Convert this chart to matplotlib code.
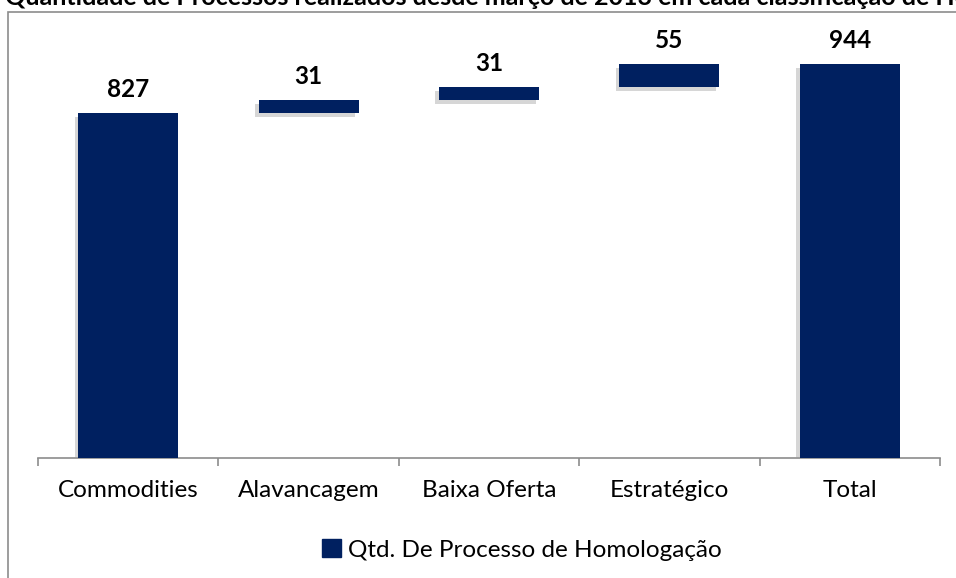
import matplotlib.pyplot as plt
import matplotlib.patheffects as pe
from matplotlib.patches import Rectangle, Patch
import numpy as np

# dados do grafico (cascata)
categorias = ['Commodities', 'Alavancagem', 'Baixa Oferta', 'Estratégico', 'Total']
valores = [827, 31, 31, 55, 944]
titulo = 'Quantidade de Processos realizados desde março de 2013 em cada classificação de Homologação'
legenda = 'Qtd. De Processo de Homologação'

cor = '#002060'
plt.rcParams['font.family'] = ['Lato', 'DejaVu Sans']

fig = plt.figure(figsize=(9.56, 5.78), dpi=100)

# moldura cinza do grafico
fig.patches.append(Rectangle((8 / 956, -0.05), 1.0, (578 - 12) / 578 + 0.05,
                             transform=fig.transFigure, fill=False,
                             edgecolor='#8c8c8c', linewidth=1.2))

fig.text(5 / 956, 573 / 578, titulo, fontsize=18, fontweight='bold',
         ha='left', va='baseline')

ax = fig.add_axes([38 / 956, 120 / 578, 902 / 956, 417 / 578])

# base de cada barra: acumulado dos anteriores, total parte do zero
bases = np.concatenate([[0], np.cumsum(valores[:-2])])
bases = np.append(bases, 0)
x = np.arange(len(categorias))

sombra = [pe.SimplePatchShadow(offset=(-2.5, -2.5), shadow_rgbFace='#9a9a9a', alpha=0.4),
          pe.Normal()]
barras = ax.bar(x, valores, bottom=bases, width=0.555, color=cor, zorder=3)
for b in barras:
    b.set_path_effects(sombra)

for xi, v, b0 in zip(x, valores, bases):
    ax.annotate(str(v), (xi, b0 + v), xytext=(0, 9), textcoords='offset points',
                ha='center', va='bottom', fontsize=17.5, fontweight='bold')

ax.set_xlim(-0.5, len(categorias) - 0.5)
ax.set_ylim(0, 1000)
ax.set_xticks(x)
ax.set_xticklabels(categorias, fontsize=17.5)
ax.set_xticks(np.arange(len(categorias) + 1) - 0.5, minor=True)
ax.tick_params(axis='x', which='major', length=0, pad=16)
ax.tick_params(axis='x', which='minor', length=6, color='#8c8c8c', width=1.2)
ax.set_yticks([])
for s in ['top', 'right', 'left']:
    ax.spines[s].set_visible(False)
ax.spines['bottom'].set_color('#8c8c8c')
ax.spines['bottom'].set_linewidth(1.2)

fig.legend(handles=[Patch(color=cor, label=legenda)], loc='center',
           bbox_to_anchor=(522 / 956, 28 / 578), frameon=False, fontsize=17.5,
           handlelength=0.75, handleheight=0.75, handletextpad=0.3)

fig.savefig('out.png', dpi=100)
